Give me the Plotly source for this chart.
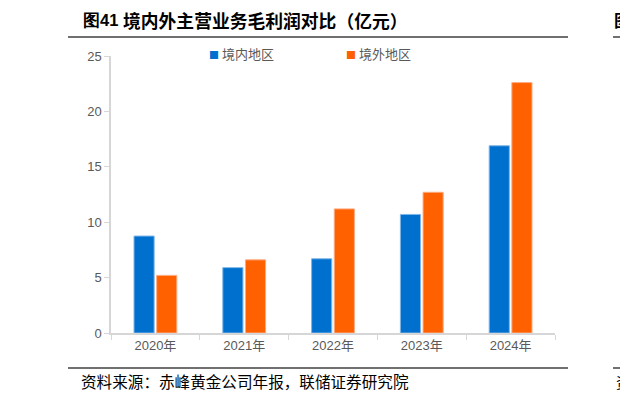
import plotly.graph_objects as go

years = ["2020年", "2021年", "2022年", "2023年", "2024年"]
domestic = [8.75, 5.9, 6.7, 10.7, 16.9]
overseas = [5.2, 6.6, 11.2, 12.7, 22.6]
series_names = ["境内地区", "境外地区"]
colors = ["#0070CE", "#FF6000"]
edge_colors = ["#7fb6e8", "#ffab80"]
y_ticks = [0, 5, 10, 15, 20, 25]

title_num = "图41"
title_text = "境内外主营业务毛利润对比（亿元）"
source_text = "资料来源：赤峰黄金公司年报，联储证券研究院"

# page body has an 8px margin, so the figure is drawn from (8, 8)
OFF = 8
W, H = 628 - OFF, 398 - OFF
# plot area in reference pixels
PX0, PX1, PY0, PY1 = 111, 555, 56, 333
L, R, T, B = PX0 - OFF, 628 - PX1, PY0 - OFF, 398 - PY1
PW, PH = PX1 - PX0, PY1 - PY0

def fx(px):
    return (px - PX0) / PW

def fy(py):
    return (PY1 - py) / PH

fig = go.Figure()
for name, vals, c, ec in zip(series_names, [domestic, overseas], colors, edge_colors):
    fig.add_trace(go.Bar(x=years, y=vals, name=name,
                         marker=dict(color=c, line=dict(color=ec, width=1)),
                         showlegend=False))

sans = "Liberation Sans, Arial, sans-serif"
cjk = "Noto Sans CJK SC"

fig.update_layout(
    width=W, height=H,
    margin=dict(l=L, r=R, t=T, b=B),
    paper_bgcolor="white", plot_bgcolor="white",
    barmode="group", bargap=0.49, bargroupgap=0.11,
    font=dict(family=sans + ", " + cjk, size=13, color="#595959"),
)
fig.update_xaxes(
    type="category", showline=True, linecolor="#d6d6d6", linewidth=1.5,
    ticks="outside", tickson="boundaries", ticklen=5, tickcolor="#d6d6d6",
    showgrid=False, tickfont=dict(size=13, color="#595959"),
)
fig.update_yaxes(
    range=[0, 25], tickvals=y_ticks, showline=True, linecolor="#d6d6d6", linewidth=1.5,
    ticks="outside", ticklen=5, tickcolor="#d6d6d6", showgrid=False, zeroline=False,
    tickfont=dict(size=13, color="#595959"),
)

anns = []
def text_at(x, y, text, family, size, color="#000000"):
    anns.append(dict(xref="paper", yref="paper", x=fx(x), y=fy(y),
                     xanchor="left", yanchor="middle", showarrow=False,
                     text=text, font=dict(family=family, size=size, color=color)))

text_at(81, 20, "<b>" + title_num + "</b>", sans, 16.5)
text_at(121, 20, "<b>" + title_text + "</b>", cjk, 17.8)
text_at(612, 20, "<b>图</b>", cjk, 17)
text_at(79, 381, source_text, cjk, 15.6)
text_at(614, 381, source_text[0], cjk, 15)
for name, c, lx in zip(series_names, colors, [207, 344]):
    text_at(lx, 53, "<span style='color:%s;font-size:10px'>■</span> %s" % (c, name), cjk, 13, "#595959")
fig.update_layout(annotations=anns)

shapes = []
for y in [37, 368]:
    for x0, x1 in [(68, 568), (613, 640)]:
        shapes.append(dict(type="line", xref="paper", yref="paper",
                           x0=fx(x0), x1=fx(x1), y0=fy(y), y1=fy(y),
                           line=dict(color="#404040", width=1.5)))
fig.update_layout(shapes=shapes)

fig.write_html("out.html")
